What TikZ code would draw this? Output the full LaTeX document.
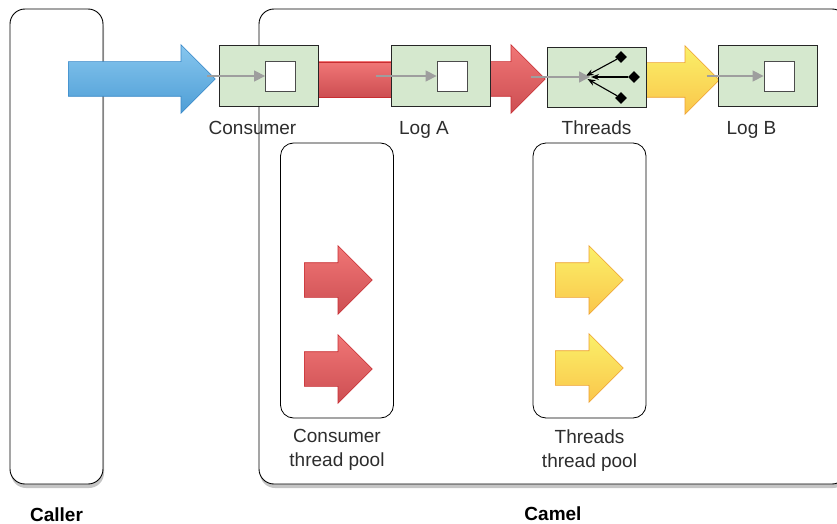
\documentclass[tikz,border=0pt]{standalone}
\usepackage{fontspec}
\setmainfont{Liberation Sans}
\usetikzlibrary{shapes.geometric, shapes.arrows, arrows.meta, positioning, shadows, calc}
\definecolor{colStep}{RGB}{213,232,206}
\definecolor{colText}{RGB}{45,45,45}
\definecolor{colFeed}{RGB}{158,158,158}
\definecolor{colBlueTop}{RGB}{135,198,238}
\definecolor{colBlueBot}{RGB}{78,158,214}
\definecolor{colBlueLine}{RGB}{55,135,200}
\definecolor{colRedTop}{RGB}{240,118,118}
\definecolor{colRedBot}{RGB}{205,78,82}
\definecolor{colRedLine}{RGB}{200,45,50}
\definecolor{colYelTop}{RGB}{250,240,105}
\definecolor{colYelBot}{RGB}{250,198,75}
\definecolor{colYelLine}{RGB}{238,160,50}
\tikzset{
  area/.style={
    rectangle, rounded corners=15pt,
    draw=black, line width=0.9pt, fill=white,
    drop shadow={shadow xshift=1pt, shadow yshift=-4pt, opacity=0.45}
  },
  pool/.style={
    rectangle, rounded corners=13pt,
    draw=black, line width=0.8pt, fill=white,
    minimum width=113pt, minimum height=275pt
  },
  stepbox/.style={
    rectangle, draw=black!85, line width=0.9pt, fill=colStep,
    minimum width=99pt, minimum height=61pt
  },
  slot/.style={
    rectangle, draw=black!70, line width=0.8pt, fill=white,
    minimum width=30pt, minimum height=30pt, inner sep=0pt
  },
  pick/.style={
    diamond, fill=black, inner sep=0pt,
    minimum width=12pt, minimum height=12pt
  },
  fat/.style={
    single arrow, single arrow head extend=17pt, single arrow tip angle=90,
    inner xsep=0pt, inner ysep=17pt, line width=0.6pt,
    minimum width=68pt, anchor=tail
  },
  fatBlue/.style={fat, draw=colBlueLine, top color=colBlueTop, bottom color=colBlueBot},
  fatRed/.style={fat, draw=colRedLine, top color=colRedTop, bottom color=colRedBot},
  fatYel/.style={fat, draw=colYelLine, top color=colYelTop, bottom color=colYelBot},
  feed/.style={
    -{Triangle[length=11pt, width=11pt]}, line width=1.3pt, color=colFeed
  },
  fan/.style={
    -{Stealth[length=8pt, width=6pt]}, line width=1.1pt, color=black
  },
  caption/.style={
    font=\fontsize{19}{24}\selectfont, text=colText, align=center, inner sep=0pt
  },
  title/.style={
    caption, font=\fontsize{19}{24}\selectfont\bfseries, text=black
  }
}
\begin{document}
\begin{tikzpicture}[x=1pt, y=-1pt]

  \useasboundingbox (0,0) rectangle (837,524);
  \fill[white] (0,0) rectangle (837,524);
  \clip (0,0) rectangle (837,524);

  % caller and camel
  \node[area, minimum width=93pt, minimum height=475pt] (caller) at (56.5,246.5) {};
  \node[area, minimum width=588pt, minimum height=475pt] (camel) at (553,246.5) {};
  \node[title, below=23pt of caller] (callerLbl) {Caller};
  \node[title] (camelLbl) at (553,514) {Camel};

  % thread pools
  \node[pool] (consPool) at (337,280.5) {};
  \node[pool] (thrPool) at (589.5,280.5) {};
  \node[caption, below=11pt of consPool] (consPoolLbl) {Consumer\\thread pool};
  \node[caption, below=11pt of thrPool] (thrPoolLbl) {Threads\\thread pool};

  \node[fatRed, minimum height=68pt] (consJob1) at (304,280) {};
  \node[fatRed, minimum height=68pt] (consJob2) at (304,369) {};
  \node[fatYel, minimum height=68pt] (thrJob1) at (555,280) {};
  \node[fatYel, minimum height=68pt] (thrJob2) at (555,368) {};

  % flow along the route
  \node[fatBlue, minimum height=147pt] (callIn) at (68,79) {};
  \node[fatRed, minimum height=75pt] (toThreads) at (470,79) {};
  \node[fatYel, minimum height=89pt] (toLogB) at (630,80) {};
  \shade[top color=colRedTop, bottom color=colRedBot] (310,62) rectangle (400,97);
  \draw[colRedLine, line width=0.6pt] (310,62) -- (400,62) (310,97) -- (400,97);

  % route steps
  \node[stepbox] (cons) at (268.5,76) {};
  \node[stepbox] (logA) at (441,76) {};
  \node[stepbox, minimum height=60pt] (thr) at (596.5,77) {};
  \node[stepbox] (logB) at (767.5,76) {};

  \node[slot] (consSlot) at ([xshift=12pt]cons.center) {};
  \node[slot] (logASlot) at ([xshift=11pt]logA.center) {};
  \node[slot] (logBSlot) at ([xshift=11.5pt]logB.center) {};

  \node[caption, below=14pt of cons, xshift=-16pt] (consLbl) {Consumer};
  \node[caption, below=14pt of logA, xshift=-17pt] (logALbl) {Log A};
  \node[caption, below=13pt of thr] (thrLbl) {Threads};
  \node[caption, below=14pt of logB, xshift=-16pt] (logBLbl) {Log B};

  % fan out inside threads
  \coordinate (hub) at (584,77);
  \node[pick] (pick1) at (621,57) {};
  \node[pick] (pick2) at (634,77) {};
  \node[pick] (pick3) at (621,98) {};
  \draw[fan, shorten >=2pt] (pick1) -- (hub);
  \draw[fan, shorten >=7pt] (pick2) -- (hub);
  \draw[fan, shorten >=4pt] (pick3) -- (hub);

  % feeds into each step
  \draw[feed] ([xshift=-58pt]consSlot.west) -- (consSlot.west);
  \draw[feed] ([xshift=-61pt]logASlot.west) -- (logASlot.west);
  \draw[feed] ([xshift=-57pt]logBSlot.west) -- (logBSlot.west);
  \draw[feed] ([xshift=-53pt]hub) -- ([xshift=6pt]hub);

\end{tikzpicture}
\end{document}
